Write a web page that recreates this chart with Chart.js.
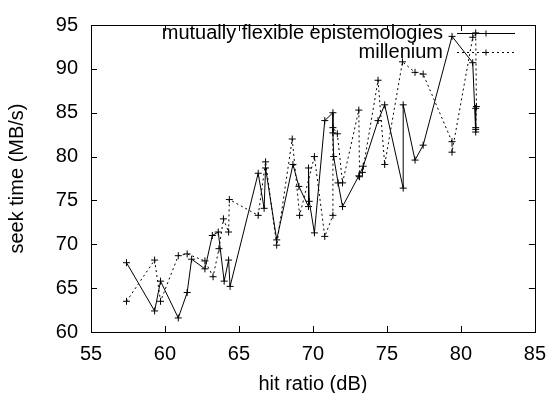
<!DOCTYPE html>
<html>
<head>
<meta charset="utf-8">
<script src="https://cdn.jsdelivr.net/npm/chart.js@4/dist/chart.umd.min.js"></script>
<style>
  html, body { margin: 0; padding: 0; background: #fff; }
  #wrap { width: 556px; height: 393px; }
</style>
</head>
<body>
<div id="wrap"><canvas id="chart" width="556" height="393"></canvas></div>
<script>
// Datos
const flexX = [57.4, 59.3, 59.7, 60.9, 61.5, 61.8, 62.7, 63.2, 63.6, 64.0, 64.3, 64.4, 66.3, 66.7, 66.8, 67.55,
               68.65, 69.05, 69.7, 69.7, 69.75, 70.1, 70.8, 71.35, 71.35, 71.4, 71.7, 72.0, 73.1, 73.4, 74.4, 74.85,
               76.1, 76.1, 76.9, 77.45, 79.4, 80.8, 81.0, 81.0, 81.0];
const flexY = [67.9, 62.4, 65.8, 61.6, 64.5, 68.3, 67.2, 71.0, 71.4, 65.8, 68.2, 65.2, 78.1, 74.1, 78.7, 70.5,
               79.1, 76.6, 74.3, 78.7, 74.9, 71.3, 84.1, 85.0, 82.7, 80.0, 77.0, 74.3, 77.8, 78.9, 84.1, 85.9,
               76.4, 85.9, 79.6, 81.3, 93.7, 90.7, 82.8, 85.5, 83.3];

const milX = [57.4, 59.3, 59.7, 60.9, 61.5, 62.7, 63.25, 63.65, 63.95, 64.3, 64.35, 66.3, 66.8, 67.55, 68.6, 69.1,
              70.1, 70.8, 71.35, 71.35, 71.65, 72.0, 73.1, 73.15, 73.35, 74.4, 74.85, 76.05, 76.9, 77.45, 79.4, 79.4,
              80.8, 81.0, 81.05, 81.0];
const milY = [63.5, 68.2, 63.5, 68.7, 68.9, 68.1, 66.3, 69.5, 72.9, 71.4, 75.1, 73.3, 79.4, 69.9, 82.0, 73.3,
              80.0, 70.9, 73.3, 83.3, 82.6, 77.0, 85.3, 77.7, 78.2, 88.7, 79.1, 90.8, 89.6, 89.4, 81.7, 80.5,
              93.6, 94.1, 85.7, 83.1];

const seriesNames = ['mutually flexible epistemologies', 'millenium'];
const xTicks = [55, 60, 65, 70, 75, 80, 85];
const yTicks = [60, 65, 70, 75, 80, 85, 90, 95];

const FONT = 'Liberation Sans, Arial, Helvetica, sans-serif';

function toPoints(xs, ys) {
    return xs.map((x, i) => ({ x: x, y: ys[i] }));
}

// Marco y marcas de gnuplot (hacia dentro en los cuatro lados) + leyenda
const gnuplotFrame = {
    id: 'gnuplotFrame',
    afterDatasetsDraw(chart) {
        const { ctx, chartArea: a, scales } = chart;
        const t = 6;
        ctx.save();
        ctx.strokeStyle = '#000';
        ctx.lineWidth = 1;
        ctx.beginPath();
        xTicks.forEach(v => {
            const px = Math.round(scales.x.getPixelForValue(v)) + 0.5;
            ctx.moveTo(px, a.bottom); ctx.lineTo(px, a.bottom - t);
            ctx.moveTo(px, a.top); ctx.lineTo(px, a.top + t);
        });
        yTicks.forEach(v => {
            const py = Math.round(scales.y.getPixelForValue(v)) + 0.5;
            ctx.moveTo(a.left, py); ctx.lineTo(a.left + t, py);
            ctx.moveTo(a.right, py); ctx.lineTo(a.right - t, py);
        });
        ctx.stroke();
        ctx.strokeRect(Math.round(a.left) + 0.5, Math.round(a.top) + 0.5,
                       Math.round(a.right - a.left), Math.round(a.bottom - a.top));

        // leyenda
        ctx.font = '20px ' + FONT;
        ctx.fillStyle = '#000';
        ctx.textAlign = 'right';
        ctx.textBaseline = 'middle';
        const rows = [33, 52];
        chart.data.datasets.forEach((ds, i) => {
            const y = rows[i] + 0.5;
            ctx.fillText(ds.label, 443, rows[i]);
            ctx.beginPath();
            ctx.setLineDash(ds.borderDash || []);
            ctx.moveTo(457, y); ctx.lineTo(515, y);
            ctx.stroke();
            ctx.setLineDash([]);
            ctx.beginPath();
            ctx.moveTo(483, y); ctx.lineTo(489, y);
            ctx.moveTo(486, y - 3); ctx.lineTo(486, y + 3);
            ctx.stroke();
        });
        ctx.restore();
    }
};

new Chart(document.getElementById('chart').getContext('2d'), {
    type: 'scatter',
    data: {
        datasets: [
            {
                label: seriesNames[0],
                data: toPoints(flexX, flexY),
                showLine: true,
                borderColor: '#000',
                backgroundColor: '#000',
                borderWidth: 1,
                pointStyle: 'cross',
                pointRadius: 3.5,
                pointBorderWidth: 1,
                tension: 0
            },
            {
                label: seriesNames[1],
                data: toPoints(milX, milY),
                showLine: true,
                borderColor: '#000',
                backgroundColor: '#000',
                borderWidth: 1,
                borderDash: [2, 3],
                pointStyle: 'cross',
                pointRadius: 3.5,
                pointBorderWidth: 1,
                tension: 0
            }
        ]
    },
    options: {
        responsive: false,
        animation: false,
        layout: { padding: { left: 0, top: 16, right: 16, bottom: 0 } },
        plugins: { legend: { display: false }, tooltip: { enabled: false } },
        scales: {
            x: {
                type: 'linear',
                min: 55, max: 85,
                afterFit: s => { s.height = 61; },
                afterBuildTicks: s => { s.ticks = xTicks.map(v => ({ value: v })); },
                grid: { display: false, drawTicks: false },
                border: { display: false },
                ticks: { color: '#000', font: { family: FONT, size: 20 }, padding: 10, maxRotation: 0 },
                title: { display: true, text: 'hit ratio (dB)', color: '#000', font: { family: FONT, size: 20 }, padding: { top: 0, bottom: -3 } }
            },
            y: {
                type: 'linear',
                min: 60, max: 95,
                afterFit: s => { s.width = 91; },
                afterBuildTicks: s => { s.ticks = yTicks.map(v => ({ value: v })); },
                grid: { display: false, drawTicks: false },
                border: { display: false },
                ticks: { color: '#000', font: { family: FONT, size: 20 }, padding: 13 },
                title: { display: true, text: 'seek time (MB/s)', color: '#000', font: { family: FONT, size: 20 }, padding: { top: 5, bottom: 0 } }
            }
        }
    },
    plugins: [gnuplotFrame]
});
</script>
</body>
</html>
